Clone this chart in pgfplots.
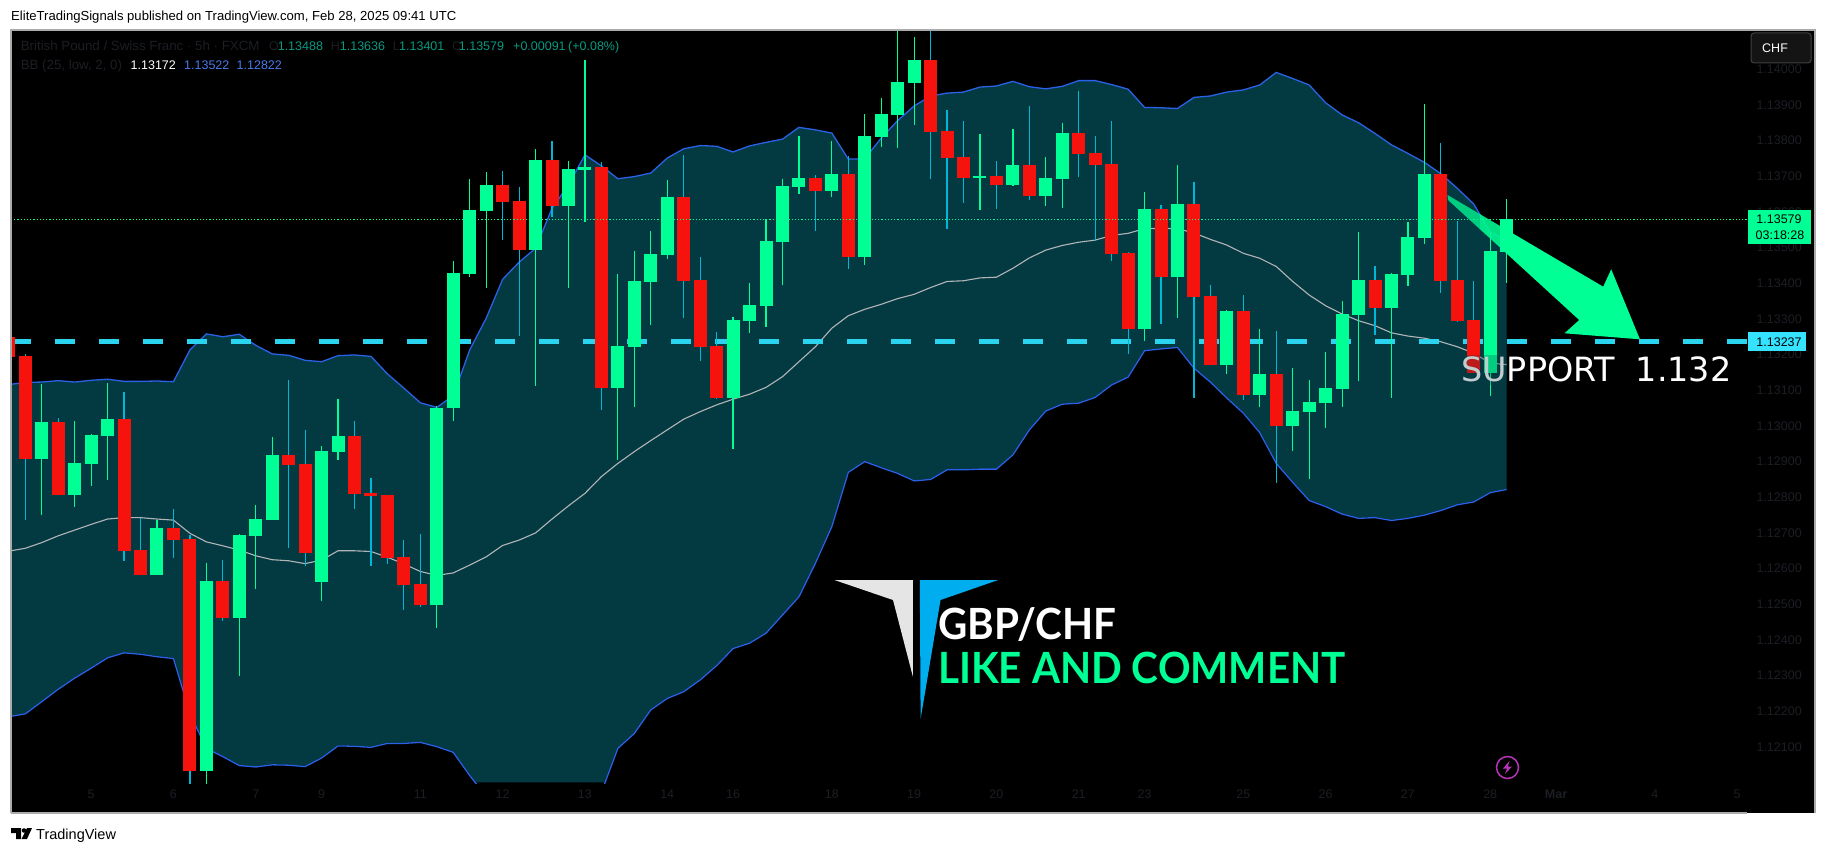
\documentclass[border=0pt]{standalone}
\usepackage{fontspec}
\setmainfont{Liberation Sans}
\newfontfamily\bigfont{Lato}
\newfontfamily\suppfont{DejaVu Sans}
\usepackage{pgfplots}
\usepackage{pgfplotstable}
\pgfplotsset{compat=1.18}

\definecolor{bandfill}{HTML}{033A42}
\definecolor{bandline}{HTML}{2962E6}
\definecolor{basisline}{HTML}{B2B5B8}
\definecolor{upcol}{HTML}{00FF95}
\definecolor{downcol}{HTML}{F7130D}
\definecolor{downwick}{HTML}{00B7D8}
\definecolor{suppcol}{HTML}{2AD4EE}
\definecolor{faint}{HTML}{1C1E24}
\definecolor{legendgreen}{HTML}{089981}
\definecolor{frame}{HTML}{ABABAB}
\definecolor{supplabel}{HTML}{35E3FF}
\definecolor{logoblue}{HTML}{00AEEF}

% candles: x  high  body top  body bottom  low
\pgfplotstableread{
x h t b l
1 1.13118 1.13011 1.12906 1.12749
3 1.13014 1.12896 1.12805 1.12774
4 1.12978 1.12975 1.12894 1.12833
5 1.13121 1.13020 1.12973 1.12849
8 1.12736 1.12714 1.12582 1.12582
11 1.12615 1.12565 1.12033 1.11951
13 1.12697 1.12694 1.12462 1.12299
14 1.12779 1.12739 1.12692 1.12543
15 1.12969 1.12919 1.12736 1.12736
18 1.12944 1.12930 1.12563 1.12509
19 1.13076 1.12972 1.12927 1.12905
25 1.13056 1.13050 1.12498 1.12434
26 1.13463 1.13429 1.13049 1.13014
27 1.13693 1.13606 1.13426 1.13418
28 1.13712 1.13676 1.13603 1.13387
31 1.13777 1.13746 1.13493 1.13112
33 1.13743 1.13721 1.13617 1.13387
34 1.14026 1.13726 1.13718 1.13572
36 1.13426 1.13224 1.13107 1.12905
37 1.13491 1.13407 1.13221 1.13053
38 1.13547 1.13482 1.13404 1.13283
39 1.13690 1.13642 1.13479 1.13468
43 1.13306 1.13297 1.13079 1.12935
44 1.13401 1.13339 1.13294 1.13261
45 1.13580 1.13519 1.13336 1.13278
46 1.13693 1.13673 1.13516 1.13395
47 1.13813 1.13695 1.13670 1.13650
49 1.13799 1.13707 1.13659 1.13642
51 1.13875 1.13813 1.13474 1.13451
52 1.13920 1.13875 1.13810 1.13782
53 1.14138 1.13964 1.13872 1.13779
54 1.14091 1.14026 1.13962 1.13844
58 1.13819 1.13701 1.13695 1.13606
60 1.13833 1.13732 1.13676 1.13673
62 1.13754 1.13695 1.13645 1.13617
63 1.13850 1.13821 1.13693 1.13611
68 1.13656 1.13608 1.13272 1.13238
70 1.13732 1.13622 1.13418 1.13303
73 1.13325 1.13322 1.13171 1.13146
75 1.13272 1.13146 1.13087 1.13053
77 1.13163 1.13042 1.13000 1.12930
78 1.13129 1.13067 1.13039 1.12851
79 1.13207 1.13107 1.13064 1.12994
80 1.13350 1.13314 1.13104 1.13053
81 1.13544 1.13409 1.13311 1.13126
83 1.13429 1.13426 1.13331 1.13079
84 1.13572 1.13530 1.13423 1.13393
85 1.13903 1.13707 1.13527 1.13510
89 1.13540 1.13491 1.13149 1.13084
90 1.13636 1.13579 1.13488 1.13401
}\upcandles

\pgfplotstableread{
x h t b l
-1 1.13248 1.13248 1.13194 1.13194
0 1.13202 1.13196 1.12906 1.12737
2 1.13021 1.13011 1.12805 1.12805
6 1.13095 1.13020 1.12650 1.12620
7 1.12743 1.12652 1.12582 1.12582
9 1.12767 1.12714 1.12680 1.12631
10 1.12694 1.12683 1.12033 1.11951
12 1.12624 1.12565 1.12462 1.12453
16 1.13129 1.12919 1.12891 1.12658
17 1.12989 1.12893 1.12644 1.12607
20 1.13014 1.12972 1.12809 1.12767
21 1.12854 1.12812 1.12804 1.12607
22 1.12807 1.12807 1.12630 1.12613
23 1.12680 1.12633 1.12554 1.12484
24 1.12697 1.12557 1.12498 1.12493
29 1.13715 1.13676 1.13628 1.13521
30 1.13670 1.13631 1.13493 1.13252
32 1.13799 1.13746 1.13617 1.13586
35 1.13740 1.13726 1.13107 1.13045
40 1.13760 1.13642 1.13407 1.13303
41 1.13474 1.13409 1.13221 1.13182
42 1.13264 1.13224 1.13079 1.13076
48 1.13704 1.13695 1.13659 1.13547
50 1.13757 1.13707 1.13474 1.13440
55 1.14138 1.14026 1.13824 1.13693
56 1.13886 1.13827 1.13751 1.13552
57 1.13855 1.13754 1.13695 1.13625
59 1.13743 1.13701 1.13676 1.13608
61 1.13897 1.13732 1.13645 1.13634
64 1.13939 1.13821 1.13763 1.13698
65 1.13813 1.13765 1.13732 1.13519
66 1.13855 1.13735 1.13482 1.13463
67 1.13488 1.13485 1.13272 1.13202
69 1.13620 1.13608 1.13418 1.13286
71 1.13684 1.13622 1.13362 1.13079
72 1.13395 1.13364 1.13171 1.13171
74 1.13367 1.13322 1.13087 1.13073
76 1.13266 1.13146 1.13000 1.12841
82 1.13449 1.13409 1.13331 1.13255
86 1.13793 1.13707 1.13407 1.13373
87 1.13575 1.13409 1.13294 1.13292
88 1.13407 1.13297 1.13149 1.13149
}\downcandles

% Bollinger bands: x upper basis lower
\pgfplotstableread{
x u m l
-1 1.13116 1.12649 1.12185
0 1.13122 1.12657 1.12193
1 1.13123 1.12673 1.12227
2 1.13127 1.12692 1.12262
3 1.13123 1.12708 1.12293
4 1.13128 1.12724 1.12321
5 1.13131 1.12739 1.12350
6 1.13125 1.12743 1.12364
7 1.13125 1.12743 1.12360
8 1.13126 1.12739 1.12353
9 1.13124 1.12736 1.12348
10 1.13213 1.12699 1.12194
11 1.13258 1.12675 1.12096
12 1.13250 1.12664 1.12073
13 1.13257 1.12652 1.12048
14 1.13226 1.12636 1.12044
15 1.13202 1.12625 1.12050
16 1.13198 1.12622 1.12049
17 1.13184 1.12614 1.12045
18 1.13180 1.12624 1.12069
19 1.13197 1.12650 1.12103
20 1.13199 1.12650 1.12102
21 1.13195 1.12648 1.12099
22 1.13146 1.12632 1.12110
23 1.13106 1.12613 1.12110
24 1.13065 1.12592 1.12113
25 1.13052 1.12581 1.12101
26 1.13085 1.12588 1.12085
27 1.13213 1.12610 1.12020
28 1.13302 1.12633 1.11961
29 1.13411 1.12665 1.11905
30 1.13459 1.12680 1.11867
31 1.13498 1.12700 1.11849
32 1.13610 1.12739 1.11839
33 1.13676 1.12776 1.11858
34 1.13760 1.12811 1.11905
35 1.13729 1.12858 1.11973
36 1.13693 1.12895 1.12096
37 1.13699 1.12928 1.12138
38 1.13709 1.12959 1.12204
39 1.13751 1.12989 1.12236
40 1.13777 1.13019 1.12255
41 1.13786 1.13040 1.12288
42 1.13784 1.13059 1.12328
43 1.13768 1.13075 1.12376
44 1.13785 1.13089 1.12391
45 1.13795 1.13108 1.12419
46 1.13804 1.13138 1.12470
47 1.13837 1.13180 1.12521
48 1.13830 1.13222 1.12615
49 1.13821 1.13274 1.12718
50 1.13748 1.13309 1.12870
51 1.13749 1.13327 1.12900
52 1.13807 1.13341 1.12883
53 1.13856 1.13357 1.12867
54 1.13897 1.13369 1.12846
55 1.13925 1.13388 1.12850
56 1.13933 1.13405 1.12877
57 1.13936 1.13407 1.12877
58 1.13950 1.13415 1.12879
59 1.13953 1.13417 1.12879
60 1.13966 1.13442 1.12919
61 1.13951 1.13471 1.12989
62 1.13945 1.13493 1.13042
63 1.13952 1.13506 1.13061
64 1.13968 1.13515 1.13064
65 1.13968 1.13521 1.13080
66 1.13957 1.13534 1.13115
67 1.13944 1.13540 1.13137
68 1.13893 1.13553 1.13211
69 1.13892 1.13554 1.13216
70 1.13890 1.13553 1.13220
71 1.13921 1.13541 1.13162
72 1.13925 1.13523 1.13123
73 1.13936 1.13507 1.13078
74 1.13942 1.13484 1.13036
75 1.13956 1.13470 1.12981
76 1.13991 1.13447 1.12895
77 1.13974 1.13405 1.12842
78 1.13956 1.13367 1.12791
79 1.13906 1.13337 1.12774
80 1.13872 1.13314 1.12753
81 1.13850 1.13295 1.12741
82 1.13820 1.13281 1.12743
83 1.13788 1.13261 1.12735
84 1.13764 1.13252 1.12741
85 1.13739 1.13246 1.12750
86 1.13707 1.13236 1.12763
87 1.13666 1.13222 1.12779
88 1.13622 1.13204 1.12787
89 1.13543 1.13176 1.12813
90 1.13522 1.13172 1.12822
}\bands

\pgfplotsset{
  wicks/.style={draw=none, mark=none, forget plot,
    error bars/y dir=both, error bars/y explicit, error bars/error mark=none,
    error bars/error bar style={#1, line width=1.2pt, solid}},
  bodies/.style={draw=none, mark=none, forget plot,
    error bars/y dir=minus, error bars/y explicit, error bars/error mark=none,
    error bars/error bar style={#1, line width=13pt, solid}},
}

\begin{document}
\begin{tikzpicture}
\fill[white] (0,0) rectangle (1826pt,-853pt);
\fill[black] (11pt,-30pt) rectangle (1815pt,-813pt);

\begin{axis}[
  at={(11pt,-783pt)}, anchor=south west,
  scale only axis, width=1736pt, height=753pt,
  xmin=-0.869, xmax=104.6, ymin=1.11999, ymax=1.14110,
  axis background/.style={fill=black},
  axis line style={draw=none},
  major tick length=0pt,
  xtick={4,9,14,18,24,29,34,39,43,49,54,59,64,68,74,79,84,89,93,99,104},
  xticklabels={5,6,7,9,11,12,13,14,16,18,19,20,21,23,25,26,27,28,\textbf{Mar},4,5},
  ytick={1.121,1.122,1.123,1.124,1.125,1.126,1.127,1.128,1.129,1.130,1.131,1.132,1.133,1.134,1.135,1.136,1.137,1.138,1.139,1.140},
  yticklabel pos=right,
  scaled y ticks=false,
  /pgf/number format/assume math mode=true,
  yticklabel style={/pgf/number format/fixed, /pgf/number format/fixed zerofill, /pgf/number format/precision=5,
    text=faint, font=\fontsize{12.5}{14}\selectfont, xshift=6pt},
  xticklabel style={text=faint, font=\fontsize{12.5}{14}\selectfont, yshift=-3pt},
]
% band: area under the upper line, then black under the lower line
\addplot[fill=bandfill, draw=none, forget plot] table[x=x,y=u] {\bands} \closedcycle;
\addplot[fill=black, draw=black, line width=1.2pt, forget plot] table[x=x,y=l] {\bands} \closedcycle;
\addplot[bandline, line width=1.3pt, forget plot] table[x=x,y=u] {\bands};
\addplot[bandline, line width=1.3pt, forget plot] table[x=x,y=l] {\bands};
\addplot[basisline, line width=1.1pt, forget plot] table[x=x,y=m] {\bands};
\addplot[suppcol, line width=4.4pt, dash pattern=on 20pt off 24pt, forget plot]
  coordinates {(-0.869,1.13237) (104.6,1.13237)};

\addplot[wicks=upcol] table[x=x,y=t,y error plus expr=\thisrow{h}-\thisrow{t},y error minus expr=\thisrow{t}-\thisrow{l}] {\upcandles};
\addplot[wicks=downwick] table[x=x,y=t,y error plus expr=\thisrow{h}-\thisrow{t},y error minus expr=\thisrow{t}-\thisrow{l}] {\downcandles};
\addplot[bodies=upcol] table[x=x,y=t,y error minus expr=\thisrow{t}-\thisrow{b}] {\upcandles};
\addplot[bodies=downcol] table[x=x,y=t,y error minus expr=\thisrow{t}-\thisrow{b}] {\downcandles};

\addplot[upcol, line width=0.9pt, dash pattern=on 1.2pt off 2pt, forget plot]
  coordinates {(-0.869,1.13579) (104.6,1.13579)};
\end{axis}

% frame on top of the pane edges
\draw[frame, line width=1.2pt] (11pt,-813pt) -- (11pt,-30pt) -- (1815pt,-30pt) -- (1815pt,-813pt);
\draw[frame, line width=1.2pt] (11pt,-813pt) -- (1747pt,-813pt);

\begin{scope}[x=1pt,y=-1pt]
% arrow, solid part then fading tail
\fill[upcol] (1500,225.9) -- (1603.2,286.7) -- (1611.2,269.3) -- (1639.9,339.3)
  -- (1564.5,333.3) -- (1579.2,320) -- (1500,247.5) -- cycle;
\fill[upcol, opacity=.88] (1480,214.2) -- (1500,225.9) -- (1500,247.5) -- (1480,229.3) -- cycle;
\fill[upcol, opacity=.75] (1447.5,195) -- (1480,214.2) -- (1480,229.3) -- (1448,200) -- cycle;

% logo
\fill[black!10] (834.4,580) -- (912.9,580) -- (912.9,676.7) -- (893,600) -- cycle;
\fill[logoblue] (919.8,580) -- (998.2,580) -- (940.5,600) -- (920.6,719) -- cycle;

% price labels
\fill[upcol] (1748,210) rectangle (1811,244);
\node[anchor=center, black, font=\fontsize{12.5}{14}\selectfont] at (1779,219.5) {1.13579};
\node[anchor=center, black, font=\fontsize{12.5}{14}\selectfont] at (1780,235) {03:18:28};
\fill[supplabel] (1748,332) rectangle (1806,351);
\node[anchor=center, black, font=\fontsize{12.5}{14}\selectfont] at (1779,342) {1.13237};

% CHF box
\fill[black!92, draw=black!75, line width=1pt, rounded corners=3pt] (1751,33) rectangle (1811,63);
\node[anchor=west, white, inner sep=0pt, font=\fontsize{12.5}{14}\selectfont] at (1762,48) {CHF};

% annotations
\node[anchor=base west, inner sep=0pt, xscale=.94, white, font=\bigfont\bfseries\fontsize{43}{46}\selectfont] at (938,639) {GBP/CHF};
\node[anchor=base west, inner sep=0pt, xscale=.94, upcol, font=\bigfont\bfseries\fontsize{43}{46}\selectfont] at (938,683) {LIKE AND COMMENT};
\node[anchor=base west, inner sep=0pt, white, font=\suppfont\fontsize{33.4}{36}\selectfont] at (1461,381) {SUPPORT\ \ 1.132};
% the text is paler where it lies on the band
\fill[bandfill, opacity=.25] (1460,355) rectangle (1506.5,385);

% legend rows
\begin{scope}[font=\fontsize{12.5}{14}\selectfont, every node/.style={anchor=base west, inner sep=0pt}]
\node[faint, font=\fontsize{13.3}{15}\selectfont] at (20.6,51) {British Pound / Swiss Franc · 5h · FXCM};
\node[faint] at (269,51) {O};
\node[legendgreen] at (277.6,51) {1.13488};
\node[faint] at (330.6,51) {H};
\node[legendgreen] at (339.7,51) {1.13636};
\node[faint] at (392.6,51) {L};
\node[legendgreen] at (399,51) {1.13401};
\node[faint] at (452,51) {C};
\node[legendgreen] at (458.7,51) {1.13579};
\node[legendgreen] at (513,51) {+0.00091};
\node[legendgreen] at (568,51) {(+0.08\%)};
\node[faint, font=\fontsize{13.3}{15}\selectfont] at (20.6,70) {BB (25, low, 2, 0)};
\node[white] at (130.5,70) {1.13172};
\node[bandline!85!white] at (184,70) {1.13522};
\node[bandline!85!white] at (236.5,70) {1.12822};
\node[black, font=\fontsize{13.1}{15}\selectfont] at (11,21) {EliteTradingSignals published on TradingView.com, Feb 28, 2025 09:41 UTC};
\node[black, font=\fontsize{14.5}{16}\selectfont] at (36,839) {TradingView};
\end{scope}

% TradingView mark
\fill[black] (11,828) -- (21,828) -- (21,839) -- (16,839) -- (16,833) -- (11,833) -- cycle;
\fill[black] (24,830.5) circle (2.3);
\fill[black] (27,828) -- (32,828) -- (27,839) -- (21.5,839) -- cycle;

% bolt icon on the time scale edge
\draw[violet!70!magenta!80!white, line width=1.5pt] (1507.5,767.5) ellipse (11 and 11);
\fill[violet!70!magenta!80!white] (1509.5,761) -- (1503,768.5) -- (1507,768.5) -- (1505,774) -- (1512,766.5) -- (1508,766.5) -- cycle;
\end{scope}
\end{tikzpicture}
\end{document}
